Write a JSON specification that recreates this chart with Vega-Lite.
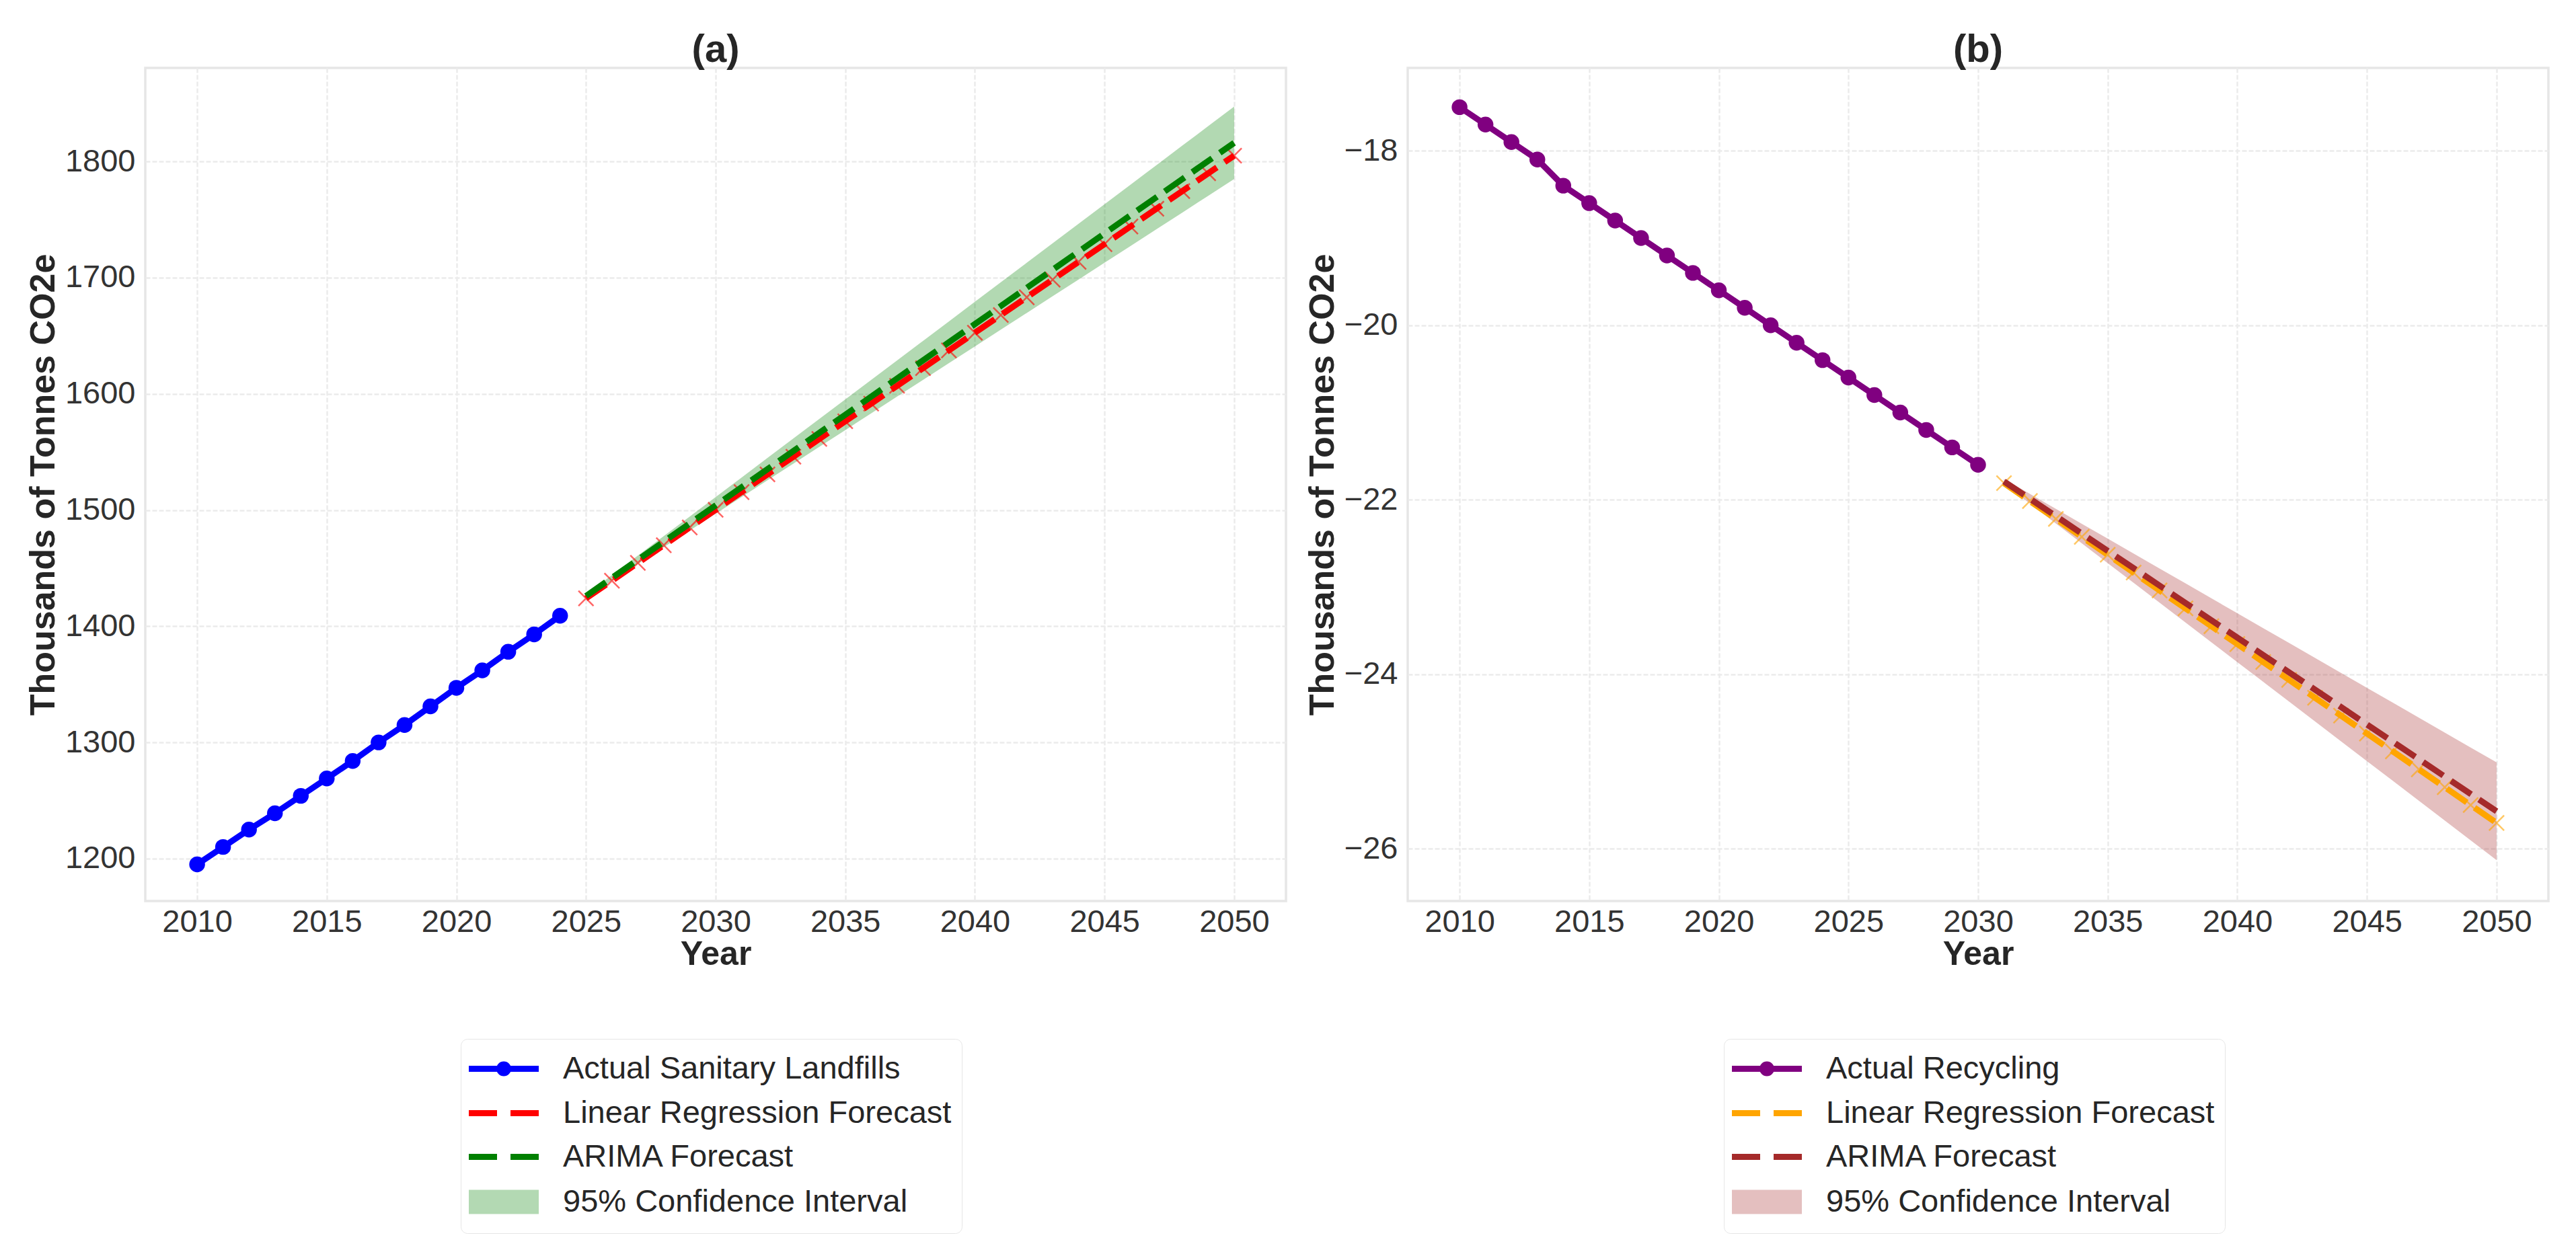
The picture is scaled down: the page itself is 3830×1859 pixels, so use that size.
{
  "$schema": "https://vega.github.io/schema/vega-lite/v6.json",
  "background": "white",
  "padding": {"left": 36, "top": 44, "right": 30, "bottom": 20},
  "spacing": 24,
  "config": {
    "font": "Liberation Sans",
    "view": {"stroke": "#e6e6e6", "strokeWidth": 3.5},
    "axis": {
      "grid": true, "gridColor": "#ebebeb", "gridWidth": 2.5, "gridDash": [7, 3],
      "ticks": false, "domain": false,
      "labelFont": "Liberation Sans", "labelFontSize": 47, "labelColor": "#333333",
      "titleFont": "Liberation Sans", "titleFontWeight": "bold", "titleColor": "#262626"
    },
    "axisX": {"labelPadding": 8, "titlePadding": 0, "titleFontSize": 50},
    "axisY": {"labelPadding": 15, "titlePadding": 5, "titleFontSize": 52},
    "title": {"font": "Liberation Sans", "fontSize": 58, "fontWeight": "bold", "color": "#262626", "offset": -3},
    "legend": {
      "labelFont": "Liberation Sans", "labelFontSize": 47, "labelColor": "#262626", "labelLimit": 2000,
      "symbolSize": 2500, "symbolStrokeWidth": 9, "symbolOpacity": 1,
      "labelOffset": 78, "rowPadding": 12, "padding": 15,
      "strokeColor": "#e6e6e6", "fillColor": "white", "cornerRadius": 10
    }
  },
  "resolve": {"scale": {"fill": "independent", "stroke": "independent", "shape": "independent"}},
  "hconcat": [
    {
      "title": {"text": "(a)"},
      "width": 1696,
      "height": 1239,
      "data": {"values": [
        {"s": "Actual Sanitary Landfills", "year": 2010, "v": 1195},
        {"s": "Actual Sanitary Landfills", "year": 2011, "v": 1210},
        {"s": "Actual Sanitary Landfills", "year": 2012, "v": 1225},
        {"s": "Actual Sanitary Landfills", "year": 2013, "v": 1239},
        {"s": "Actual Sanitary Landfills", "year": 2014, "v": 1254},
        {"s": "Actual Sanitary Landfills", "year": 2015, "v": 1269},
        {"s": "Actual Sanitary Landfills", "year": 2016, "v": 1284},
        {"s": "Actual Sanitary Landfills", "year": 2017, "v": 1300},
        {"s": "Actual Sanitary Landfills", "year": 2018, "v": 1315},
        {"s": "Actual Sanitary Landfills", "year": 2019, "v": 1331},
        {"s": "Actual Sanitary Landfills", "year": 2020, "v": 1347},
        {"s": "Actual Sanitary Landfills", "year": 2021, "v": 1362},
        {"s": "Actual Sanitary Landfills", "year": 2022, "v": 1378},
        {"s": "Actual Sanitary Landfills", "year": 2023, "v": 1393},
        {"s": "Actual Sanitary Landfills", "year": 2024, "v": 1409},
        {"s": "Linear Regression Forecast", "year": 2025, "v": 1424.0},
        {"s": "Linear Regression Forecast", "year": 2026, "v": 1439.2},
        {"s": "Linear Regression Forecast", "year": 2027, "v": 1454.5},
        {"s": "Linear Regression Forecast", "year": 2028, "v": 1469.7},
        {"s": "Linear Regression Forecast", "year": 2029, "v": 1485.0},
        {"s": "Linear Regression Forecast", "year": 2030, "v": 1500.2},
        {"s": "Linear Regression Forecast", "year": 2031, "v": 1515.4},
        {"s": "Linear Regression Forecast", "year": 2032, "v": 1530.7},
        {"s": "Linear Regression Forecast", "year": 2033, "v": 1545.9},
        {"s": "Linear Regression Forecast", "year": 2034, "v": 1561.2},
        {"s": "Linear Regression Forecast", "year": 2035, "v": 1576.4},
        {"s": "Linear Regression Forecast", "year": 2036, "v": 1591.6},
        {"s": "Linear Regression Forecast", "year": 2037, "v": 1606.9},
        {"s": "Linear Regression Forecast", "year": 2038, "v": 1622.1},
        {"s": "Linear Regression Forecast", "year": 2039, "v": 1637.4},
        {"s": "Linear Regression Forecast", "year": 2040, "v": 1652.6},
        {"s": "Linear Regression Forecast", "year": 2041, "v": 1667.8},
        {"s": "Linear Regression Forecast", "year": 2042, "v": 1683.1},
        {"s": "Linear Regression Forecast", "year": 2043, "v": 1698.3},
        {"s": "Linear Regression Forecast", "year": 2044, "v": 1713.6},
        {"s": "Linear Regression Forecast", "year": 2045, "v": 1728.8},
        {"s": "Linear Regression Forecast", "year": 2046, "v": 1744.0},
        {"s": "Linear Regression Forecast", "year": 2047, "v": 1759.3},
        {"s": "Linear Regression Forecast", "year": 2048, "v": 1774.5},
        {"s": "Linear Regression Forecast", "year": 2049, "v": 1789.8},
        {"s": "Linear Regression Forecast", "year": 2050, "v": 1805.0},
        {"s": "ARIMA Forecast", "year": 2025, "v": 1426.0, "lo": 1424.8, "hi": 1427.2},
        {"s": "ARIMA Forecast", "year": 2026, "v": 1441.6, "lo": 1439.2, "hi": 1444.0},
        {"s": "ARIMA Forecast", "year": 2027, "v": 1457.2, "lo": 1453.6, "hi": 1460.8},
        {"s": "ARIMA Forecast", "year": 2028, "v": 1472.8, "lo": 1468.0, "hi": 1477.6},
        {"s": "ARIMA Forecast", "year": 2029, "v": 1488.4, "lo": 1482.4, "hi": 1494.4},
        {"s": "ARIMA Forecast", "year": 2030, "v": 1504.0, "lo": 1496.8, "hi": 1511.2},
        {"s": "ARIMA Forecast", "year": 2031, "v": 1519.6, "lo": 1511.2, "hi": 1528.0},
        {"s": "ARIMA Forecast", "year": 2032, "v": 1535.2, "lo": 1525.6, "hi": 1544.8},
        {"s": "ARIMA Forecast", "year": 2033, "v": 1550.8, "lo": 1540.0, "hi": 1561.6},
        {"s": "ARIMA Forecast", "year": 2034, "v": 1566.4, "lo": 1554.4, "hi": 1578.4},
        {"s": "ARIMA Forecast", "year": 2035, "v": 1582.0, "lo": 1568.8, "hi": 1595.2},
        {"s": "ARIMA Forecast", "year": 2036, "v": 1597.6, "lo": 1583.2, "hi": 1612.0},
        {"s": "ARIMA Forecast", "year": 2037, "v": 1613.2, "lo": 1597.6, "hi": 1628.8},
        {"s": "ARIMA Forecast", "year": 2038, "v": 1628.8, "lo": 1612.0, "hi": 1645.6},
        {"s": "ARIMA Forecast", "year": 2039, "v": 1644.4, "lo": 1626.4, "hi": 1662.4},
        {"s": "ARIMA Forecast", "year": 2040, "v": 1660.0, "lo": 1640.8, "hi": 1679.2},
        {"s": "ARIMA Forecast", "year": 2041, "v": 1675.6, "lo": 1655.2, "hi": 1696.0},
        {"s": "ARIMA Forecast", "year": 2042, "v": 1691.2, "lo": 1669.6, "hi": 1712.8},
        {"s": "ARIMA Forecast", "year": 2043, "v": 1706.8, "lo": 1684.0, "hi": 1729.6},
        {"s": "ARIMA Forecast", "year": 2044, "v": 1722.4, "lo": 1698.4, "hi": 1746.4},
        {"s": "ARIMA Forecast", "year": 2045, "v": 1738.0, "lo": 1712.8, "hi": 1763.2},
        {"s": "ARIMA Forecast", "year": 2046, "v": 1753.6, "lo": 1727.2, "hi": 1780.0},
        {"s": "ARIMA Forecast", "year": 2047, "v": 1769.2, "lo": 1741.6, "hi": 1796.8},
        {"s": "ARIMA Forecast", "year": 2048, "v": 1784.8, "lo": 1756.0, "hi": 1813.6},
        {"s": "ARIMA Forecast", "year": 2049, "v": 1800.4, "lo": 1770.4, "hi": 1830.4},
        {"s": "ARIMA Forecast", "year": 2050, "v": 1816.0, "lo": 1784.8, "hi": 1847.2}
      ]},
      "encoding": {
        "x": {"field": "year", "type": "quantitative", "title": "Year",
              "scale": {"domain": [2008, 2052], "nice": false, "zero": false},
              "axis": {"values": [2010, 2015, 2020, 2025, 2030, 2035, 2040, 2045, 2050], "format": "d"}},
        "y": {"field": "v", "type": "quantitative", "title": "Thousands of Tonnes CO2e",
              "scale": {"domain": [1163.5, 1880.5], "nice": false, "zero": false},
              "axis": {"values": [1200, 1300, 1400, 1500, 1600, 1700, 1800], "format": "d"}}
      },
      "layer": [
        {
          "transform": [{"filter": "datum.s === 'ARIMA Forecast'"}],
          "mark": {"type": "area", "color": "#008000", "opacity": 0.3},
          "encoding": {
            "y": {"field": "lo", "type": "quantitative", "title": "Thousands of Tonnes CO2e"},
            "y2": {"field": "hi"}
          }
        },
        {
          "transform": [{"filter": "datum.s === 'Actual Sanitary Landfills'"}],
          "mark": {"type": "line", "color": "#0000ff", "strokeWidth": 9},
          "encoding": {}
        },
        {
          "transform": [{"filter": "datum.s === 'Actual Sanitary Landfills'"}],
          "mark": {"type": "point", "filled": true, "color": "#0000ff", "size": 550, "opacity": 1},
          "encoding": {}
        },
        {
          "transform": [{"filter": "datum.s === 'Linear Regression Forecast'"}],
          "mark": {"type": "line", "color": "#ff0000", "strokeWidth": 9, "strokeDash": [36, 14]},
          "encoding": {}
        },
        {
          "transform": [{"filter": "datum.s === 'Linear Regression Forecast'"}],
          "mark": {"type": "point", "filled": false, "color": "#ff0000", "shape": "M-1,-1L1,1M-1,1L1,-1", "size": 500, "strokeWidth": 2.5, "opacity": 0.6},
          "encoding": {}
        },
        {
          "transform": [{"filter": "datum.s === 'ARIMA Forecast'"}],
          "mark": {"type": "line", "color": "#008000", "strokeWidth": 9, "strokeDash": [36, 14]},
          "encoding": {}
        },
        {
          "mark": {"type": "point", "filled": true, "opacity": 0},
          "encoding": {
            "fill": {"field": "s", "type": "nominal",
                     "scale": {"domain": ["Actual Sanitary Landfills", "Linear Regression Forecast", "ARIMA Forecast", "95% Confidence Interval"],
                               "range": ["#0000ff", "#ff0000", "#008000", "#b3d9b3"]},
                     "legend": {"title": null, "orient": "none", "legendX": 469, "legendY": 1444, "direction": "vertical"}},
            "stroke": {"field": "s", "type": "nominal",
                     "scale": {"domain": ["Actual Sanitary Landfills", "Linear Regression Forecast", "ARIMA Forecast", "95% Confidence Interval"],
                               "range": ["#0000ff", "#ff0000", "#008000", "#b3d9b3"]},
                     "legend": {"title": null, "orient": "none", "legendX": 469, "legendY": 1444, "direction": "vertical"}},
            "shape": {"field": "s", "type": "nominal",
                     "scale": {"domain": ["Actual Sanitary Landfills", "Linear Regression Forecast", "ARIMA Forecast", "95% Confidence Interval"],
                               "range": ["M-1.3,0H2.86M1.04,0A0.26,0.26 0 1,1 0.52,0A0.26,0.26 0 1,1 1.04,0Z", "M-1.3,0H0.38M1.18,0H2.86", "M-1.3,0H0.38M1.18,0H2.86", "M-1.12,-0.54H2.68V0.54H-1.12Z"]},
                     "legend": {"title": null, "orient": "none", "legendX": 469, "legendY": 1444, "direction": "vertical"}}
          }
        }
      ]
    },
    {
      "title": {"text": "(b)"},
      "width": 1696,
      "height": 1239,
      "data": {"values": [
        {"s": "Actual Recycling", "year": 2010, "v": -17.5},
        {"s": "Actual Recycling", "year": 2011, "v": -17.7},
        {"s": "Actual Recycling", "year": 2012, "v": -17.9},
        {"s": "Actual Recycling", "year": 2013, "v": -18.1},
        {"s": "Actual Recycling", "year": 2014, "v": -18.4},
        {"s": "Actual Recycling", "year": 2015, "v": -18.6},
        {"s": "Actual Recycling", "year": 2016, "v": -18.8},
        {"s": "Actual Recycling", "year": 2017, "v": -19.0},
        {"s": "Actual Recycling", "year": 2018, "v": -19.2},
        {"s": "Actual Recycling", "year": 2019, "v": -19.4},
        {"s": "Actual Recycling", "year": 2020, "v": -19.6},
        {"s": "Actual Recycling", "year": 2021, "v": -19.8},
        {"s": "Actual Recycling", "year": 2022, "v": -20.0},
        {"s": "Actual Recycling", "year": 2023, "v": -20.2},
        {"s": "Actual Recycling", "year": 2024, "v": -20.4},
        {"s": "Actual Recycling", "year": 2025, "v": -20.6},
        {"s": "Actual Recycling", "year": 2026, "v": -20.8},
        {"s": "Actual Recycling", "year": 2027, "v": -21.0},
        {"s": "Actual Recycling", "year": 2028, "v": -21.2},
        {"s": "Actual Recycling", "year": 2029, "v": -21.4},
        {"s": "Actual Recycling", "year": 2030, "v": -21.6},
        {"s": "Linear Regression Forecast", "year": 2031, "v": -21.810},
        {"s": "Linear Regression Forecast", "year": 2032, "v": -22.015},
        {"s": "Linear Regression Forecast", "year": 2033, "v": -22.220},
        {"s": "Linear Regression Forecast", "year": 2034, "v": -22.425},
        {"s": "Linear Regression Forecast", "year": 2035, "v": -22.630},
        {"s": "Linear Regression Forecast", "year": 2036, "v": -22.835},
        {"s": "Linear Regression Forecast", "year": 2037, "v": -23.040},
        {"s": "Linear Regression Forecast", "year": 2038, "v": -23.245},
        {"s": "Linear Regression Forecast", "year": 2039, "v": -23.450},
        {"s": "Linear Regression Forecast", "year": 2040, "v": -23.655},
        {"s": "Linear Regression Forecast", "year": 2041, "v": -23.860},
        {"s": "Linear Regression Forecast", "year": 2042, "v": -24.065},
        {"s": "Linear Regression Forecast", "year": 2043, "v": -24.270},
        {"s": "Linear Regression Forecast", "year": 2044, "v": -24.475},
        {"s": "Linear Regression Forecast", "year": 2045, "v": -24.680},
        {"s": "Linear Regression Forecast", "year": 2046, "v": -24.885},
        {"s": "Linear Regression Forecast", "year": 2047, "v": -25.090},
        {"s": "Linear Regression Forecast", "year": 2048, "v": -25.295},
        {"s": "Linear Regression Forecast", "year": 2049, "v": -25.500},
        {"s": "Linear Regression Forecast", "year": 2050, "v": -25.705},
        {"s": "ARIMA Forecast", "year": 2031, "v": -21.790, "lo": -21.818, "hi": -21.762},
        {"s": "ARIMA Forecast", "year": 2032, "v": -21.989, "lo": -22.045, "hi": -21.933},
        {"s": "ARIMA Forecast", "year": 2033, "v": -22.188, "lo": -22.272, "hi": -22.104},
        {"s": "ARIMA Forecast", "year": 2034, "v": -22.387, "lo": -22.499, "hi": -22.275},
        {"s": "ARIMA Forecast", "year": 2035, "v": -22.586, "lo": -22.726, "hi": -22.446},
        {"s": "ARIMA Forecast", "year": 2036, "v": -22.785, "lo": -22.953, "hi": -22.617},
        {"s": "ARIMA Forecast", "year": 2037, "v": -22.984, "lo": -23.180, "hi": -22.788},
        {"s": "ARIMA Forecast", "year": 2038, "v": -23.183, "lo": -23.407, "hi": -22.959},
        {"s": "ARIMA Forecast", "year": 2039, "v": -23.382, "lo": -23.634, "hi": -23.130},
        {"s": "ARIMA Forecast", "year": 2040, "v": -23.581, "lo": -23.861, "hi": -23.301},
        {"s": "ARIMA Forecast", "year": 2041, "v": -23.780, "lo": -24.088, "hi": -23.472},
        {"s": "ARIMA Forecast", "year": 2042, "v": -23.979, "lo": -24.315, "hi": -23.643},
        {"s": "ARIMA Forecast", "year": 2043, "v": -24.178, "lo": -24.542, "hi": -23.814},
        {"s": "ARIMA Forecast", "year": 2044, "v": -24.377, "lo": -24.769, "hi": -23.985},
        {"s": "ARIMA Forecast", "year": 2045, "v": -24.576, "lo": -24.996, "hi": -24.156},
        {"s": "ARIMA Forecast", "year": 2046, "v": -24.775, "lo": -25.223, "hi": -24.327},
        {"s": "ARIMA Forecast", "year": 2047, "v": -24.974, "lo": -25.450, "hi": -24.498},
        {"s": "ARIMA Forecast", "year": 2048, "v": -25.173, "lo": -25.677, "hi": -24.669},
        {"s": "ARIMA Forecast", "year": 2049, "v": -25.372, "lo": -25.904, "hi": -24.840},
        {"s": "ARIMA Forecast", "year": 2050, "v": -25.571, "lo": -26.131, "hi": -25.011}
      ]},
      "encoding": {
        "x": {"field": "year", "type": "quantitative", "title": "Year",
              "scale": {"domain": [2008, 2052], "nice": false, "zero": false},
              "axis": {"values": [2010, 2015, 2020, 2025, 2030, 2035, 2040, 2045, 2050], "format": "d"}},
        "y": {"field": "v", "type": "quantitative", "title": "Thousands of Tonnes CO2e",
              "scale": {"domain": [-26.6, -17.05], "nice": false, "zero": false},
              "axis": {"values": [-26, -24, -22, -20, -18], "format": "d"}}
      },
      "layer": [
        {
          "transform": [{"filter": "datum.s === 'ARIMA Forecast'"}],
          "mark": {"type": "area", "color": "#a52a2a", "opacity": 0.3},
          "encoding": {
            "y": {"field": "lo", "type": "quantitative", "title": "Thousands of Tonnes CO2e"},
            "y2": {"field": "hi"}
          }
        },
        {
          "transform": [{"filter": "datum.s === 'Actual Recycling'"}],
          "mark": {"type": "line", "color": "#800080", "strokeWidth": 9},
          "encoding": {}
        },
        {
          "transform": [{"filter": "datum.s === 'Actual Recycling'"}],
          "mark": {"type": "point", "filled": true, "color": "#800080", "size": 550, "opacity": 1},
          "encoding": {}
        },
        {
          "transform": [{"filter": "datum.s === 'Linear Regression Forecast'"}],
          "mark": {"type": "line", "color": "#ffa500", "strokeWidth": 9, "strokeDash": [36, 14]},
          "encoding": {}
        },
        {
          "transform": [{"filter": "datum.s === 'Linear Regression Forecast'"}],
          "mark": {"type": "point", "filled": false, "color": "#ffa500", "shape": "M-1,-1L1,1M-1,1L1,-1", "size": 500, "strokeWidth": 2.5, "opacity": 0.6},
          "encoding": {}
        },
        {
          "transform": [{"filter": "datum.s === 'ARIMA Forecast'"}],
          "mark": {"type": "line", "color": "#a52a2a", "strokeWidth": 9, "strokeDash": [36, 14]},
          "encoding": {}
        },
        {
          "mark": {"type": "point", "filled": true, "opacity": 0},
          "encoding": {
            "fill": {"field": "s", "type": "nominal",
                     "scale": {"domain": ["Actual Recycling", "Linear Regression Forecast", "ARIMA Forecast", "95% Confidence Interval"],
                               "range": ["#800080", "#ffa500", "#a52a2a", "#e4bfbf"]},
                     "legend": {"title": null, "orient": "none", "legendX": 470, "legendY": 1444, "direction": "vertical"}},
            "stroke": {"field": "s", "type": "nominal",
                     "scale": {"domain": ["Actual Recycling", "Linear Regression Forecast", "ARIMA Forecast", "95% Confidence Interval"],
                               "range": ["#800080", "#ffa500", "#a52a2a", "#e4bfbf"]},
                     "legend": {"title": null, "orient": "none", "legendX": 470, "legendY": 1444, "direction": "vertical"}},
            "shape": {"field": "s", "type": "nominal",
                     "scale": {"domain": ["Actual Recycling", "Linear Regression Forecast", "ARIMA Forecast", "95% Confidence Interval"],
                               "range": ["M-1.3,0H2.86M1.04,0A0.26,0.26 0 1,1 0.52,0A0.26,0.26 0 1,1 1.04,0Z", "M-1.3,0H0.38M1.18,0H2.86", "M-1.3,0H0.38M1.18,0H2.86", "M-1.12,-0.54H2.68V0.54H-1.12Z"]},
                     "legend": {"title": null, "orient": "none", "legendX": 470, "legendY": 1444, "direction": "vertical"}}
          }
        }
      ]
    }
  ]
}
